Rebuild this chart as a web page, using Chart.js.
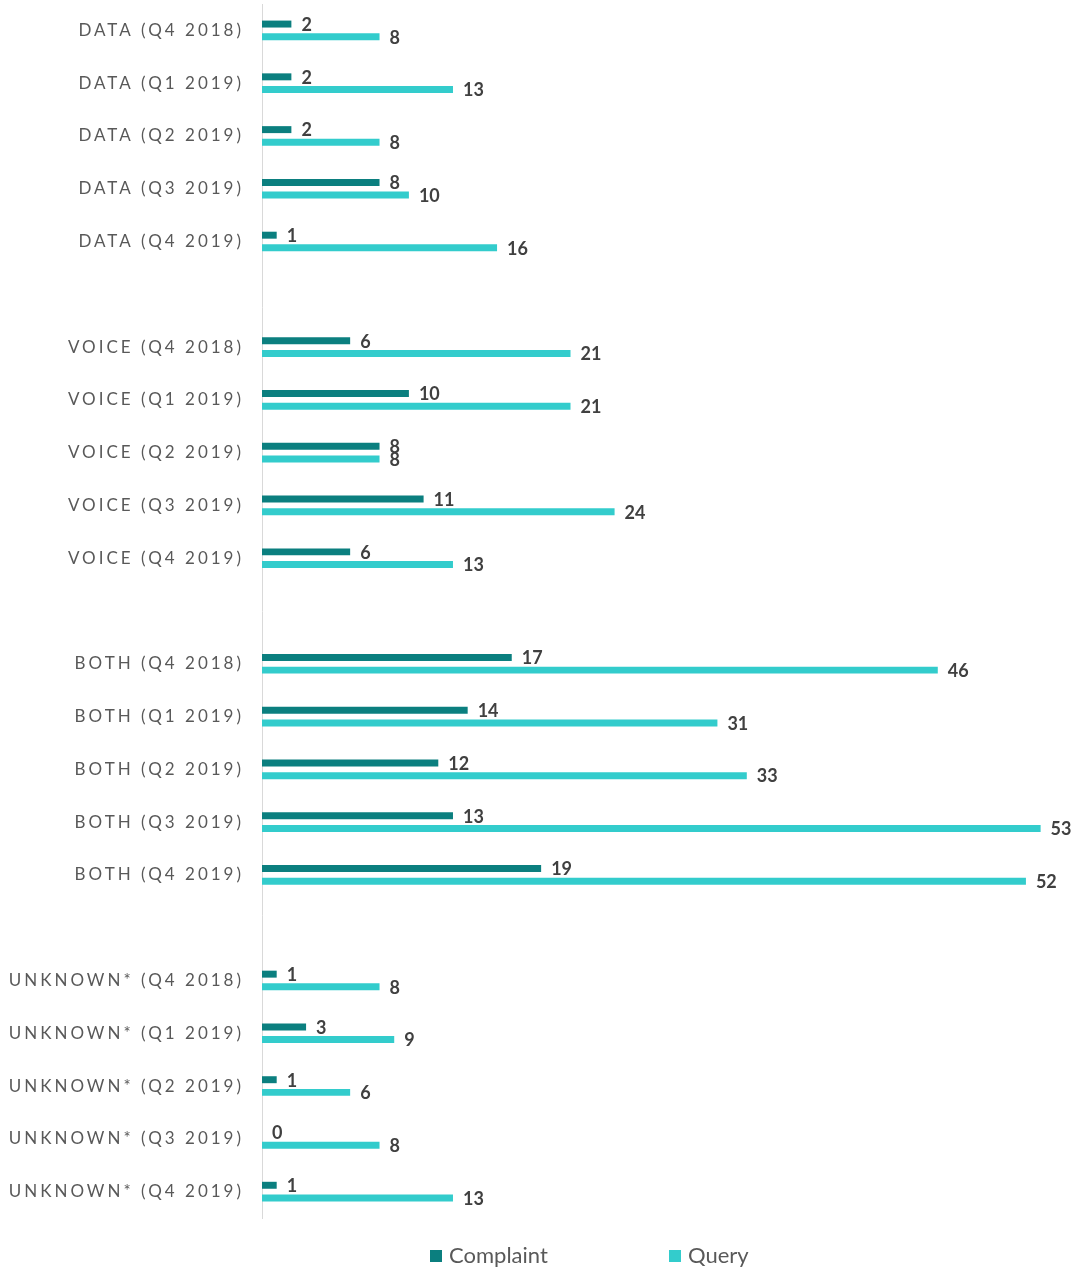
<!DOCTYPE html>
<html>
<head>
<meta charset="utf-8">
<script src="https://cdn.jsdelivr.net/npm/chart.js@4.4.0/dist/chart.umd.min.js"></script>
<style>
  body { margin: 0; background: #fff; }
  #wrap { position: relative; width: 1077px; height: 1268px; }
  .leg { position: absolute; top: 1241px; font: 22px Lato, sans-serif; color: #595959; }
  .leg span { display: inline-block; width: 12px; height: 12px; margin-right: 7px; vertical-align: 1px; }
</style>
</head>
<body>
<div id="wrap">
  <canvas id="chart" width="1077" height="1268"></canvas>
  <div class="leg" style="left:430px"><span style="background:#0B7F7F"></span>Complaint</div>
  <div class="leg" style="left:669px"><span style="background:#33CCCC"></span>Query</div>
</div>
<script>
// categories, top to bottom ('' = gap between groups)
const categories = [
  "DATA (Q4 2018)", "DATA (Q1 2019)", "DATA (Q2 2019)", "DATA (Q3 2019)", "DATA (Q4 2019)", "",
  "VOICE (Q4 2018)", "VOICE (Q1 2019)", "VOICE (Q2 2019)", "VOICE (Q3 2019)", "VOICE (Q4 2019)", "",
  "BOTH (Q4 2018)", "BOTH (Q1 2019)", "BOTH (Q2 2019)", "BOTH (Q3 2019)", "BOTH (Q4 2019)", "",
  "UNKNOWN* (Q4 2018)", "UNKNOWN* (Q1 2019)", "UNKNOWN* (Q2 2019)", "UNKNOWN* (Q3 2019)", "UNKNOWN* (Q4 2019)"
];
const complaint = [2, 2, 2, 8, 1, null, 6, 10, 8, 11, 6, null, 17, 14, 12, 13, 19, null, 1, 3, 1, 0, 1];
const query = [8, 13, 8, 10, 16, null, 21, 21, 8, 24, 13, null, 46, 31, 33, 53, 52, null, 8, 9, 6, 8, 13];

// letter-spaced category labels (legend is html, so only the y axis gets it)
const spacedTicks = {
  id: 'spacedTicks',
  beforeDraw(chart) { chart.ctx.letterSpacing = '3px'; },
  beforeDatasetsDraw(chart) { chart.ctx.letterSpacing = '0px'; }
};

const barLabels = {
  id: 'barLabels',
  afterDatasetsDraw(chart) {
    const ctx = chart.ctx;
    ctx.save();
    ctx.font = 'bold 18px Lato, sans-serif';
    ctx.fillStyle = '#404040';
    ctx.textBaseline = 'middle';
    ctx.textAlign = 'left';
    chart.data.datasets.forEach((ds, i) => {
      chart.getDatasetMeta(i).data.forEach((bar, j) => {
        if (ds.data[j] == null) return;
        ctx.fillText(ds.data[j], bar.x + 10, bar.y + 1);
      });
    });
    ctx.restore();
  }
};

new Chart(document.getElementById('chart'), {
  type: 'bar',
  data: {
    labels: categories,
    datasets: [
      { label: 'Complaint', data: complaint, backgroundColor: '#0B7F7F' },
      { label: 'Query', data: query, backgroundColor: '#33CCCC' }
    ]
  },
  options: {
    indexAxis: 'y',
    responsive: false,
    animation: false,
    categoryPercentage: 0.48,
    barPercentage: 0.55,
    layout: { padding: { top: 4, bottom: 50, right: 7, left: 0 } },
    plugins: { legend: { display: false }, tooltip: { enabled: false } },
    scales: {
      x: { display: false, min: 0, max: 55 },
      y: {
        afterFit: s => { s.width = 262; s.paddingTop = 0; s.paddingBottom = 0; },
        grid: { display: false, drawTicks: false },
        border: { display: true, color: '#D9D9D9' },
        ticks: { color: '#595959', font: { family: 'Lato', size: 17 }, padding: 18, autoSkip: false }
      }
    }
  },
  plugins: [spacedTicks, barLabels]
});
</script>
</body>
</html>
